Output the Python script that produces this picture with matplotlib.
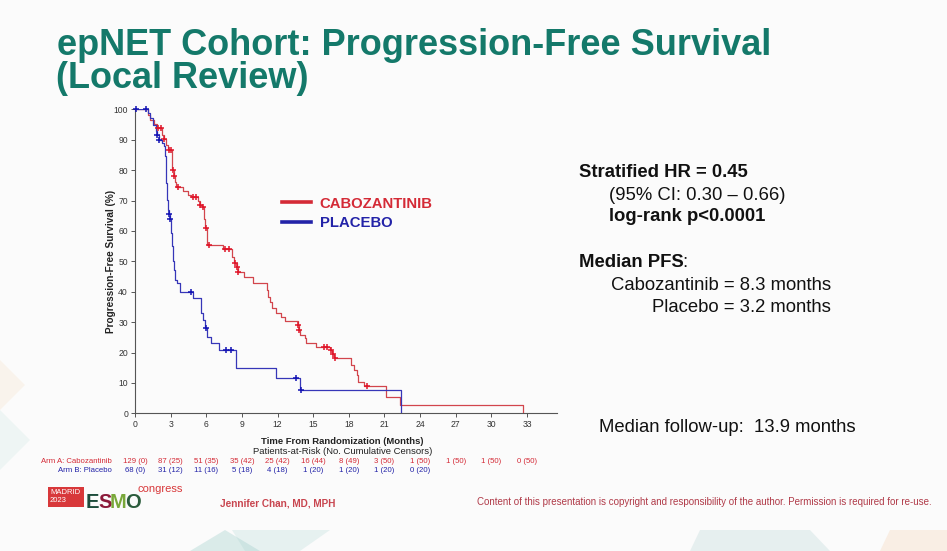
import numpy as np
import matplotlib
matplotlib.use("Agg")
import matplotlib.pyplot as plt
from matplotlib.lines import Line2D
from matplotlib.patches import Polygon, Rectangle
import matplotlib.transforms as mtransforms

# ---------------- data ----------------
cabo_times = [0, 1.1, 1.3, 1.6, 1.82, 2.3, 2.4, 2.6, 2.75, 3.1, 3.15, 3.25, 3.35, 3.45,
              4.05, 4.5, 4.75, 5.3, 5.45, 5.65, 5.85, 5.9, 6.05, 6.1, 7.4, 8.2, 8.35,
              8.55, 8.65, 9.2, 9.9, 11.1, 11.2, 11.35, 11.5, 11.9, 12.3, 12.6, 13.7,
              13.78, 13.9, 14.3, 14.4, 15.2, 16.45, 16.6, 16.75, 18.15, 18.45, 18.65,
              18.8, 19.3, 21.1, 22.3, 32.7]
cabo_surv = [100, 98.1, 96.5, 95.2, 93.8, 91.6, 90.2, 88.3, 86.7, 83, 80, 77.9, 76, 74.4,
             73, 71.9, 71, 69.7, 68.6, 67.9, 64, 61, 58, 55.5, 54.1, 51.5, 49.3,
             48, 46.5, 45, 42.8, 40.5, 38.4, 36.5, 34.5, 32.9, 31.8, 30.5, 29,
             27.4, 25.8, 24.7, 23, 21.9, 20.8, 19.5, 18.1, 16, 14.2, 12.6,
             10.4, 9, 5.5, 2.7, 0]
cabo_censor_times = [1.96, 2.22, 2.45, 2.85, 3.0, 3.18, 3.28, 3.6, 4.9, 5.1, 5.5, 5.7,
                     5.95, 6.2, 7.6, 7.95, 8.45, 8.6, 8.7, 13.72, 13.82, 15.9, 16.2,
                     16.5, 16.65, 16.8, 19.5]

plac_times = [0, 1.1, 1.25, 1.55, 1.75, 1.85, 2.0, 2.25, 2.4, 2.5, 2.58, 2.65, 2.72, 2.8,
              2.86, 2.92, 3.0, 3.1, 3.17, 3.25, 3.35, 3.5, 3.78, 4.9, 5.55, 5.7, 5.9,
              6.1, 6.4, 7.1, 8.5, 11.85, 13.9, 22.4]
plac_surv = [100, 98.7, 97, 94.9, 92.7, 91.6, 90, 88.9, 87.8, 84.5, 81.2, 75.7, 70.3, 67,
             65.4, 64, 59.3, 55, 50, 47, 44, 43, 40, 38, 33, 30.7, 28,
             25.2, 23, 20.8, 14.8, 11.5, 7.7, 0]
plac_censor_times = [0.08, 0.9, 1.88, 2.05, 2.88, 2.94, 4.7, 5.95, 7.7, 8.1, 13.55, 13.95]

risk_times = [0, 3, 6, 9, 12, 15, 18, 21, 24, 27, 30, 33]
cabo_risk = ["129 (0)", "87 (25)", "51 (35)", "35 (42)", "25 (42)", "16 (44)", "8 (49)",
             "3 (50)", "1 (50)", "1 (50)", "1 (50)", "0 (50)"]
plac_risk = ["68 (0)", "31 (12)", "11 (16)", "5 (18)", "4 (18)", "1 (20)", "1 (20)",
             "1 (20)", "0 (20)"]

x_ticks = list(range(0, 34, 3))
y_ticks = list(range(0, 101, 10))

# ---------------- style ----------------
plt.rcParams['font.family'] = ['Liberation Sans', 'DejaVu Sans']

TEAL = '#14796a'
RED_LINE = '#d2454c'
RED_MARK = '#e0162a'
RED_TEXT = '#d42a36'
BLUE_LINE = '#3636b8'
BLUE_MARK = '#1414b4'
BLUE_TEXT = '#2323a8'

W, H = 947, 551
fig = plt.figure(figsize=(W / 100, H / 100), dpi=100)
fig.patch.set_facecolor('#fbfbfb')

# faint background decorations
def fpoly(pts, color, alpha):
    fig.patches.append(Polygon([(x / W, 1 - y / H) for x, y in pts], closed=True,
                               transform=fig.transFigure, facecolor=color,
                               edgecolor='none', alpha=alpha, zorder=0))
fpoly([(190, 551), (225, 530), (260, 551)], '#8fc6c2', 0.3)
fpoly([(232, 530), (330, 530), (300, 551), (245, 551)], '#9fcfcb', 0.22)
fpoly([(700, 530), (810, 530), (830, 551), (690, 551)], '#9fc6c8', 0.22)
fpoly([(890, 530), (947, 530), (947, 551), (880, 551)], '#f5c9a0', 0.25)
fpoly([(0, 360), (25, 385), (0, 410)], '#f5d4b0', 0.2)
fpoly([(0, 410), (30, 440), (0, 470)], '#a8d4cf', 0.15)

# ---------------- axes ----------------
x0, xpx = 135.0, 11.88
y0, ypx = 413.3, 3.04
xmax = 35.5
ax = fig.add_axes([x0 / W, (H - y0) / H, xmax * xpx / W, 100 * ypx / H])
ax.set_facecolor('none')
ax.set_xlim(0, xmax)
ax.set_ylim(0, 100)

ax.step(cabo_times, cabo_surv, where='post', color=RED_LINE, lw=0.9, zorder=3)
ax.step(plac_times, plac_surv, where='post', color=BLUE_LINE, lw=0.9, zorder=3)

def level(times, surv, t):
    idx = np.searchsorted(np.asarray(times), np.asarray(t), side='right') - 1
    return np.asarray(surv)[idx]

ax.plot(cabo_censor_times, level(cabo_times, cabo_surv, cabo_censor_times), ls='none',
        marker='+', ms=5, mew=1.1, color=RED_MARK, zorder=4, clip_on=False)
ax.plot(plac_censor_times, level(plac_times, plac_surv, plac_censor_times), ls='none',
        marker='+', ms=5, mew=1.1, color=BLUE_MARK, zorder=4, clip_on=False)

for s in ['top', 'right']:
    ax.spines[s].set_visible(False)
for s in ['left', 'bottom']:
    ax.spines[s].set_color('#555555')
    ax.spines[s].set_linewidth(0.8)
ax.set_xticks(x_ticks)
ax.set_yticks(y_ticks)
ax.tick_params(axis='both', length=3, width=0.7, color='#555555', labelsize=6.2,
               labelcolor='#333333', pad=2)
ax.set_ylabel('Progression-Free Survival (%)', fontsize=7.2, fontweight='bold',
              color='#222222', labelpad=-2)

leg = ax.legend(handles=[Line2D([], [], color=RED_TEXT, lw=2.6),
                         Line2D([], [], color=BLUE_TEXT, lw=2.6)],
                labels=['CABOZANTINIB', 'PLACEBO'], frameon=False,
                loc='upper left', bbox_to_anchor=(0.316, 0.757),
                handlelength=1.95, handletextpad=0.6, labelspacing=0.4,
                prop={'size': 10.7, 'weight': 'bold'})
for txt, c in zip(leg.get_texts(), [RED_TEXT, BLUE_TEXT]):
    txt.set_color(c)

# x label and at-risk table
bt = mtransforms.blended_transform_factory(ax.transData, fig.transFigure)
xc = xmax / 2 * 0.985
ax.text(xc, 1 - 441 / H, 'Time From Randomization (Months)', transform=bt, ha='center',
        va='center', fontsize=6.8, fontweight='bold', color='#222222')
ax.text(xc, 1 - 451 / H, 'Patients-at-Risk (No. Cumulative Censors)', transform=bt,
        ha='center', va='center', fontsize=6.8, color='#222222')
for t, lab in zip(risk_times, cabo_risk):
    ax.text(t, 1 - 461.5 / H, lab, transform=bt, ha='center', va='center',
            fontsize=5.6, color=RED_TEXT, clip_on=False)
for t, lab in zip(risk_times, plac_risk):
    ax.text(t, 1 - 470 / H, lab, transform=bt, ha='center', va='center',
            fontsize=5.6, color=BLUE_TEXT, clip_on=False)
fig.text(112 / W, 1 - 461.5 / H, 'Arm A: Cabozantinib', ha='right', va='center',
         fontsize=5.6, color=RED_TEXT)
fig.text(112 / W, 1 - 470 / H, 'Arm B: Placebo', ha='right', va='center',
         fontsize=5.6, color=BLUE_TEXT)

# ---------------- title ----------------
tsize = 26
fig.text(57 / W, 1 - 55 / H, 'epNET Cohort: Progression-Free Survival',
         fontsize=tsize, fontweight='bold', color=TEAL, va='baseline', ha='left')
fig.text(56 / W, 1 - 87.5 / H, '(Local Review)',
         fontsize=tsize, fontweight='bold', color=TEAL, va='baseline', ha='left')

# ---------------- right-hand statistics ----------------
fs = 13.3
fig.text(579 / W, 1 - 172 / H, 'Stratified HR = 0.45', fontsize=fs, fontweight='bold',
         va='center', color='#111111')
fig.text(609 / W, 1 - 195 / H, '(95% CI: 0.30 \u2013 0.66)', fontsize=fs, va='center',
         color='#111111')
fig.text(609 / W, 1 - 217 / H, 'log-rank p<0.0001', fontsize=fs, fontweight='bold',
         va='center', color='#111111')
mp = fig.text(579 / W, 1 - 263 / H, 'Median PFS', fontsize=fs, fontweight='bold',
              va='center', color='#111111')
fig.canvas.draw()
bb = mp.get_window_extent()
fig.text((bb.x1 - 1.5) / W, 1 - 263 / H, ':', fontsize=fs, va='center', color='#111111')
fig.text(831 / W, 1 - 285 / H, 'Cabozantinib = 8.3 months', fontsize=fs, va='center',
         ha='right', color='#111111')
fig.text(831 / W, 1 - 307 / H, 'Placebo = 3.2 months', fontsize=fs, va='center',
         ha='right', color='#111111')
fig.text(599 / W, 1 - 427 / H, 'Median follow-up:  13.9 months', fontsize=fs,
         va='center', color='#111111')

# ---------------- footer ----------------
fig.patches.append(Rectangle((48 / W, 1 - 507 / H), 36 / W, 20 / H, transform=fig.transFigure,
                             facecolor='#d8383a', edgecolor='none', zorder=2))
fig.text(50 / W, 1 - 492 / H, 'MADRID', fontsize=5.5, color='white', va='center')
fig.text(50 / W, 1 - 501 / H, '2023', fontsize=5.5, color='white', va='center')
lx = 86
for ch, c in zip('ESMO', ['#1d4d3c', '#8c1a3a', '#79a83a', '#2b5c3c']):
    tt = fig.text(lx / W, 1 - 508 / H, ch, fontsize=14.5, fontweight='bold',
                  color=c, va='baseline', ha='left')
    fig.canvas.draw()
    lx = tt.get_window_extent().x1 - 1.5
fig.text((lx - 2) / W, 1 - 492 / H, 'congress', fontsize=8.0, color='#d8383a',
         va='baseline', ha='left')
fig.text(220 / W, 1 - 503 / H, 'Jennifer Chan, MD, MPH',
         fontsize=7.2, fontweight='bold', color='#c8454f', va='center', ha='left')
fig.text(932 / W, 1 - 502 / H,
         'Content of this presentation is copyright and responsibility of the author. '
         'Permission is required for re-use.',
         fontsize=7.05, color='#b03a48', va='center', ha='right')

fig.savefig('out.png', dpi=100, facecolor=fig.get_facecolor())
